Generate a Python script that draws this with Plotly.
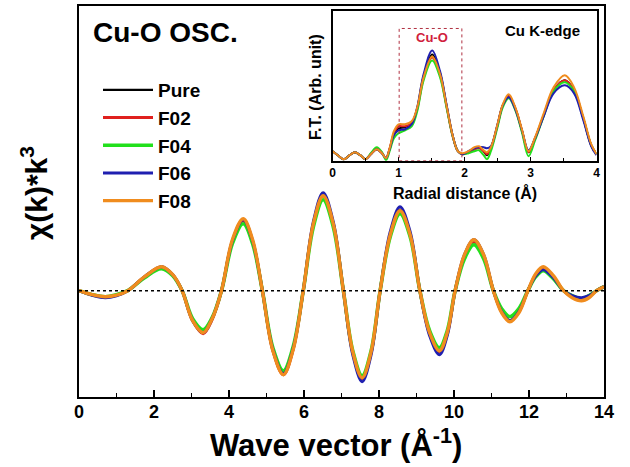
import plotly.graph_objects as go

# ---------------- main chart data: chi(k)*k^3 (arb. units) ----------------
k = [0, 0.35, 0.7, 1.0, 1.3, 1.75, 2.2, 2.5, 2.75, 3.03, 3.31, 3.55, 3.8, 4.09, 4.38,
     4.63, 4.89, 5.17, 5.45, 5.71, 5.98, 6.25, 6.51, 6.78, 7.05, 7.3, 7.55, 7.79, 8.03,
     8.3, 8.56, 8.83, 9.09, 9.35, 9.61, 9.82, 10.03, 10.28, 10.53, 10.79, 11.05, 11.27,
     11.49, 11.73, 11.97, 12.18, 12.38, 12.65, 12.92, 13.15, 13.4, 13.6, 13.8, 14.0]

chi_pure = [0, -4, -6, -4.5, 0, 14, 24, 16, 0, -30, -42, -28, 0, 50, 71,
            50, 0, -59, -83, -58, 0, 67, 95, 67, 0, -62, -88, -62, 0,
            57, 81, 57, 0, -43, -61, -43, 0, 35, 50, 35, 0, -21,
            -30, -21, 0, 16, 23, 14, 0, -6, -9, -6, 0, 4]
chi_f02 = [0, -4, -6, -4.5, 0, 14, 23.5, 16, 0, -30, -43, -29, 0, 49, 70,
           49, 0, -60, -84, -59, 0, 67, 95, 67, 0, -62, -88, -62, 0,
           56, 80, 56, 0, -43, -61, -43, 0, 34, 49, 34, 0, -21,
           -30, -21, 0, 16, 22, 14, 0, -6, -9, -6, 0, 4]
chi_f04 = [0, -4, -6, -4, 0, 13, 22, 15, 0, -28, -39, -27, 0, 47, 67,
           47, 0, -57, -80, -56, 0, 64, 91, 64, 0, -60, -85, -60, 0,
           54, 77, 54, 0, -40, -57, -40, 0, 32, 46, 32, 0, -18,
           -26, -18, 0, 14, 20, 12, 0, -5, -8, -5, 0, 4]
chi_f06 = [0, -4.5, -7, -5, 0, 14, 24, 16, 0, -30, -42, -28, 0, 50, 71,
           50, 0, -59, -83, -58, 0, 69, 98, 69, 0, -64, -91, -64, 0,
           59, 84, 59, 0, -45, -64, -45, 0, 36, 51, 36, 0, -21,
           -30, -21, 0, 15, 21, 13, 0, -5, -7, -5, 0, 4]
chi_f08 = [0, -4, -6, -4.5, 0, 14, 24, 16, 0, -30, -42, -28, 0, 51, 72,
           51, 0, -60, -84, -59, 0, 67, 95, 67, 0, -61, -87, -61, 0,
           56, 80, 56, 0, -42, -60, -42, 0, 36, 51, 36, 0, -22,
           -31, -22, 0, 17, 24, 15, 0, -7, -10, -7, 0, 4]

# ---------------- inset data: Fourier transform magnitude ----------------
r = [0, 0.08, 0.17, 0.26, 0.34, 0.42, 0.5, 0.58, 0.67, 0.75, 0.81, 0.87, 0.93, 1.0,
     1.1, 1.2, 1.28, 1.38, 1.51, 1.63, 1.73, 1.82, 1.9, 1.97, 2.06, 2.15, 2.22, 2.29,
     2.34, 2.4, 2.5, 2.58, 2.67, 2.77, 2.87, 2.97, 3.07, 3.2, 3.35, 3.52, 3.66, 3.8,
     3.92, 4.0]
ft_pure = [9, 5, 1, 5, 8, 5, 1, 6, 11, 7, 2, 12, 26, 32,
           33, 37, 51, 84, 106, 87, 54, 25, 9, 6, 8, 11, 13, 9,
           5, 12, 35, 55, 64, 52, 30, 8, 22, 45, 70, 80, 70, 42,
           15, 6]
ft_f02 = [9, 5, 1, 5, 8, 5, 1, 6, 11, 7, 2, 13, 27, 34,
          34, 37, 50, 82, 103, 85, 53, 24, 9, 6, 8, 11, 12, 9,
          6, 12, 35, 55, 64, 52, 30, 8, 22, 45, 70, 80, 70, 42,
          15, 6]
ft_f04 = [9, 5, 1, 5, 8, 5, 1, 7, 13, 8, 0, 10, 22, 27,
          30, 34, 48, 80, 100, 83, 52, 24, 9, 6, 7, 9, 10, 5,
          1, 9, 33, 53, 62, 50, 28, 4, 20, 44, 69, 78, 69, 42,
          15, 6]
ft_f06 = [9, 5, 1, 5, 8, 5, 1, 6, 11, 7, 2, 12, 25, 30,
          31, 36, 52, 86, 110, 89, 55, 25, 9, 6, 9, 12, 13, 13,
          12, 14, 36, 55, 63, 51, 30, 10, 22, 44, 67, 75, 67, 40,
          14, 5]
ft_f08 = [9, 5, 1, 5, 8, 5, 1, 6, 11, 7, 2, 13, 29, 36,
          36, 39, 52, 83, 104, 86, 54, 25, 9, 7, 9, 13, 14, 10,
          8, 13, 36, 56, 66, 53, 31, 9, 23, 47, 73, 85, 73, 44,
          16, 6]

names = ["Pure", "F02", "F04", "F06", "F08"]
colors = ["#000000", "#e0201e", "#22e01c", "#1f1fb0", "#f08c1e"]
widths = [2.2, 3.0, 3.6, 3.0, 3.4]
main_series = [chi_pure, chi_f02, chi_f04, chi_f06, chi_f08]
ft_series = [ft_pure, ft_f02, ft_f04, ft_f06, ft_f08]

FONT = "Liberation Sans, Arial, sans-serif"
W, H = 630, 467


def px(x):
    return x / W


def py(y):
    return 1 - y / H


fig = go.Figure()

for nm, c, w, yv in zip(names, colors, widths, main_series):
    fig.add_trace(go.Scatter(x=k, y=yv, mode="lines", name=nm,
                             line=dict(color=c, width=w, shape="spline", smoothing=1.0),
                             xaxis="x", yaxis="y"))

fig.add_trace(go.Scatter(x=[0, 14], y=[0, 0], mode="lines", showlegend=False,
                         line=dict(color="black", width=1.6, dash="dot"),
                         xaxis="x", yaxis="y"))

for nm, c, yv in zip(names, colors, ft_series):
    fig.add_trace(go.Scatter(x=r, y=yv, mode="lines", name=nm, showlegend=False,
                             line=dict(color=c, width=2.0, shape="spline", smoothing=1.0),
                             xaxis="x2", yaxis="y2"))

fig.update_layout(
    width=W, height=H, autosize=False,
    margin=dict(l=0, r=0, t=0, b=0, autoexpand=False),
    paper_bgcolor="white", plot_bgcolor="white",
    font=dict(family=FONT, color="black"),
    xaxis=dict(domain=[px(79), px(604)], range=[0, 14], tickvals=[0, 2, 4, 6, 8, 10, 12, 14],
               ticks="inside", ticklen=7, tickwidth=1.6, tickcolor="black",
               minor=dict(tickvals=[1, 3, 5, 7, 9, 11, 13], ticks="inside", ticklen=4,
                          tickwidth=1.4, tickcolor="black"),
               showline=True, linewidth=2, linecolor="black", mirror=True,
               showgrid=False, zeroline=False, automargin=False,
               tickfont=dict(size=18, weight="bold"), ticklabelstandoff=-3),
    yaxis=dict(domain=[py(397), py(6)], range=[-106.3, 284.7], showticklabels=False,
               ticks="", showline=True, linewidth=2, linecolor="black", mirror=True,
               showgrid=False, zeroline=False, automargin=False),
    xaxis2=dict(domain=[px(332.5), px(596.5)], range=[0, 4], anchor="y2",
                tickvals=[0, 1, 2, 3, 4], ticks="inside", ticklen=4, tickwidth=1.3,
                tickcolor="black",
                minor=dict(tickvals=[0.5, 1.5, 2.5, 3.5], ticks="inside", ticklen=3,
                           tickwidth=1.2, tickcolor="black"),
                showline=True, linewidth=1.6, linecolor="black", mirror=True,
                showgrid=False, zeroline=False, automargin=False,
                tickfont=dict(size=12, weight="bold"), ticklabelstandoff=0),
    yaxis2=dict(domain=[py(160.7), py(11)], range=[-0.5, 149.5], anchor="x2",
                showticklabels=False, ticks="", showline=True, linewidth=1.6,
                linecolor="black", mirror=True, showgrid=False, zeroline=False,
                automargin=False),
    legend=dict(x=px(98), y=py(71), xanchor="left", yanchor="top",
                bgcolor="rgba(0,0,0,0)", itemwidth=50,
                font=dict(size=19, weight="bold", family=FONT),
                tracegroupgap=0),
    showlegend=True,
)

# inset highlight box for the Cu-O shell
fig.add_shape(type="rect", xref="x2", yref="y2", x0=1.01, x1=1.96, y0=-0.5, y1=132,
              line=dict(color="#b03040", width=1, dash="dot"))

annos = [
    dict(text="Cu-O OSC.", x=px(90.5), y=py(33), xanchor="left", yanchor="middle",
         font=dict(size=28, weight="bold")),
    dict(text="Wave vector (Å<sup>-1</sup>)", x=px(336), y=py(443), xanchor="center",
         yanchor="middle", font=dict(size=31, weight="bold")),
    dict(text="χ(k)*k<sup>3</sup>", x=px(34), y=py(193), xanchor="center",
         yanchor="middle", textangle=-90, font=dict(size=30, weight="bold")),
    dict(text="Radial distance (Å)", x=px(465), y=py(193), xanchor="center",
         yanchor="middle", font=dict(size=16, weight="bold")),
    dict(text="F.T. (Arb. unit)", x=px(316), y=py(87), xanchor="center",
         yanchor="middle", textangle=-90, font=dict(size=16, weight="bold")),
    dict(text="Cu K-edge", x=px(542), y=py(30), xanchor="center", yanchor="middle",
         font=dict(size=15, weight="bold")),
    dict(text="Cu-O", x=px(432), y=py(38), xanchor="center", yanchor="middle",
         font=dict(size=13, weight="bold", color="#d0203c")),
]
for a in annos:
    fig.add_annotation(xref="paper", yref="paper", showarrow=False, **a)

fig.write_html("out.html", config={"responsive": False})
